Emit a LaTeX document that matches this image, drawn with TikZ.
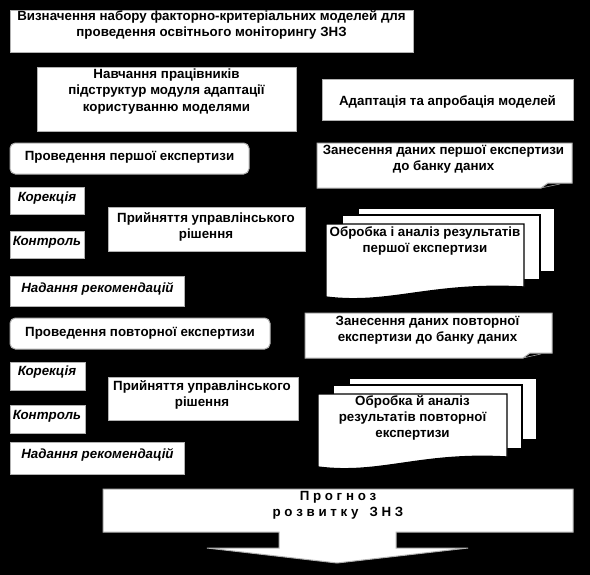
\documentclass[tikz,border=0pt]{standalone}
\usepackage{fontspec}
\setmainfont{Liberation Sans}
\usepackage{tikz}

\tikzset{
  card/.style={fill=white, draw=gray!60, line width=0.75pt},
  sheet/.style={fill=white, draw=black, line width=1pt},
  txt/.style={font=\fontsize{10}{12.3}\selectfont\bfseries, align=center, inner sep=0pt},
  itxt/.style={font=\fontsize{10}{12.3}\selectfont\bfseries\itshape, align=center, inner sep=0pt}
}

\begin{document}
\begin{tikzpicture}[x=0.75pt,y=-0.75pt]
\fill[black] (0,0) rectangle (590,575);
\useasboundingbox (0,0) rectangle (590,575);
\draw[card] (10,10) rectangle (413,52);
\node[txt] (defn) at (211.5,25) {Визначення набору факторно-критеріальних моделей для\\ проведення освітнього моніторингу ЗНЗ};
\draw[card] (37,67) rectangle (296,131);
\node[txt] (train) at (166.5,91.5) {Навчання працівників\\ підструктур модуля адаптації\\ користуванню моделями};
\draw[card] (322,79) rectangle (573,120);
\node[txt] (adapt) at (447.5,102) {Адаптація та апробація моделей};
\draw[card, rounded corners=4] (10,143) rectangle (249,174);
\node[txt] (exp1) at (129.5,157.5) {Проведення першої експертизи};
\draw[card] (317,143) -- (572,143) -- (572,183) -- (548,183) -- (541,188) -- (317,188) -- cycle;
\draw[gray!60] (541,188) -- (560,184);
\node[txt] (bank1) at (443.5,159) {Занесення даних першої експертизи\\ до банку даних};
\draw[card] (10,187) rectangle (84,214);
\node[itxt] (corr1) at (47,198) {Корекція};
\draw[card] (10,231) rectangle (84,258);
\node[itxt] (ctrl1) at (47,242) {Контроль};
\draw[card] (108,207) rectangle (305,251);
\node[txt] (dec1) at (206,227) {Прийняття управлінського\\ рішення};
\draw[card] (10,276) rectangle (184,306);
\node[itxt] (rec1) at (97.5,289) {Надання рекомендацій};
% stack of sheets, first check
\draw[sheet] (358,208) rectangle (555,272);
\draw[sheet] (342,215) rectangle (540,280);
\draw[sheet] (326,224) -- (524,224) -- (524,287) .. controls (430,282) and (390,305) .. (326,297) -- cycle;
\node[txt] (proc1) at (425,241) {Обробка і аналіз результатів\\ першої експертизи};
\draw[card, rounded corners=4] (10,318) rectangle (270,349);
\node[txt] (exp2) at (140,333) {Проведення повторної експертизи};
\draw[card] (305,313) -- (552,313) -- (552,353) -- (530,353) -- (523,358) -- (305,358) -- cycle;
\draw[gray!60] (523,358) -- (541,354);
\node[txt] (bank2) at (427.5,330) {Занесення даних повторної\\ експертизи до банку даних};
\draw[card] (10,362) rectangle (85,390);
\node[itxt] (corr2) at (47,372) {Корекція};
\draw[card] (10,405) rectangle (85,433);
\node[itxt] (ctrl2) at (47,416) {Контроль};
\draw[card] (108,377) rectangle (298,420);
\node[txt] (dec2) at (202,395) {Прийняття управлінського\\ рішення};
\draw[card] (10,442) rectangle (184,474);
\node[itxt] (rec2) at (97.5,455) {Надання рекомендацій};
% stack of sheets, second check
\draw[sheet] (349,378) rectangle (537,440);
\draw[sheet] (333,385) rectangle (522,449);
\draw[sheet] (318,394) -- (507,394) -- (507,457) .. controls (420,452) and (380,475) .. (318,467) -- cycle;
\node[txt] (proc2) at (412.5,418) {Обробка й аналіз\\ результатів повторної\\ експертизи};
% forecast arrow
\draw[card] (103,489) -- (573,489) -- (573,532) -- (396,532) -- (396,548) -- (468,548) -- (337,563)
  -- (207,548) -- (279,548) -- (279,532) -- (103,532) -- cycle;
\node[txt] (fcst) at (338,505) {П р о г н о з\\ р о з в и т к у \ \ З Н З};
\end{tikzpicture}
\end{document}
